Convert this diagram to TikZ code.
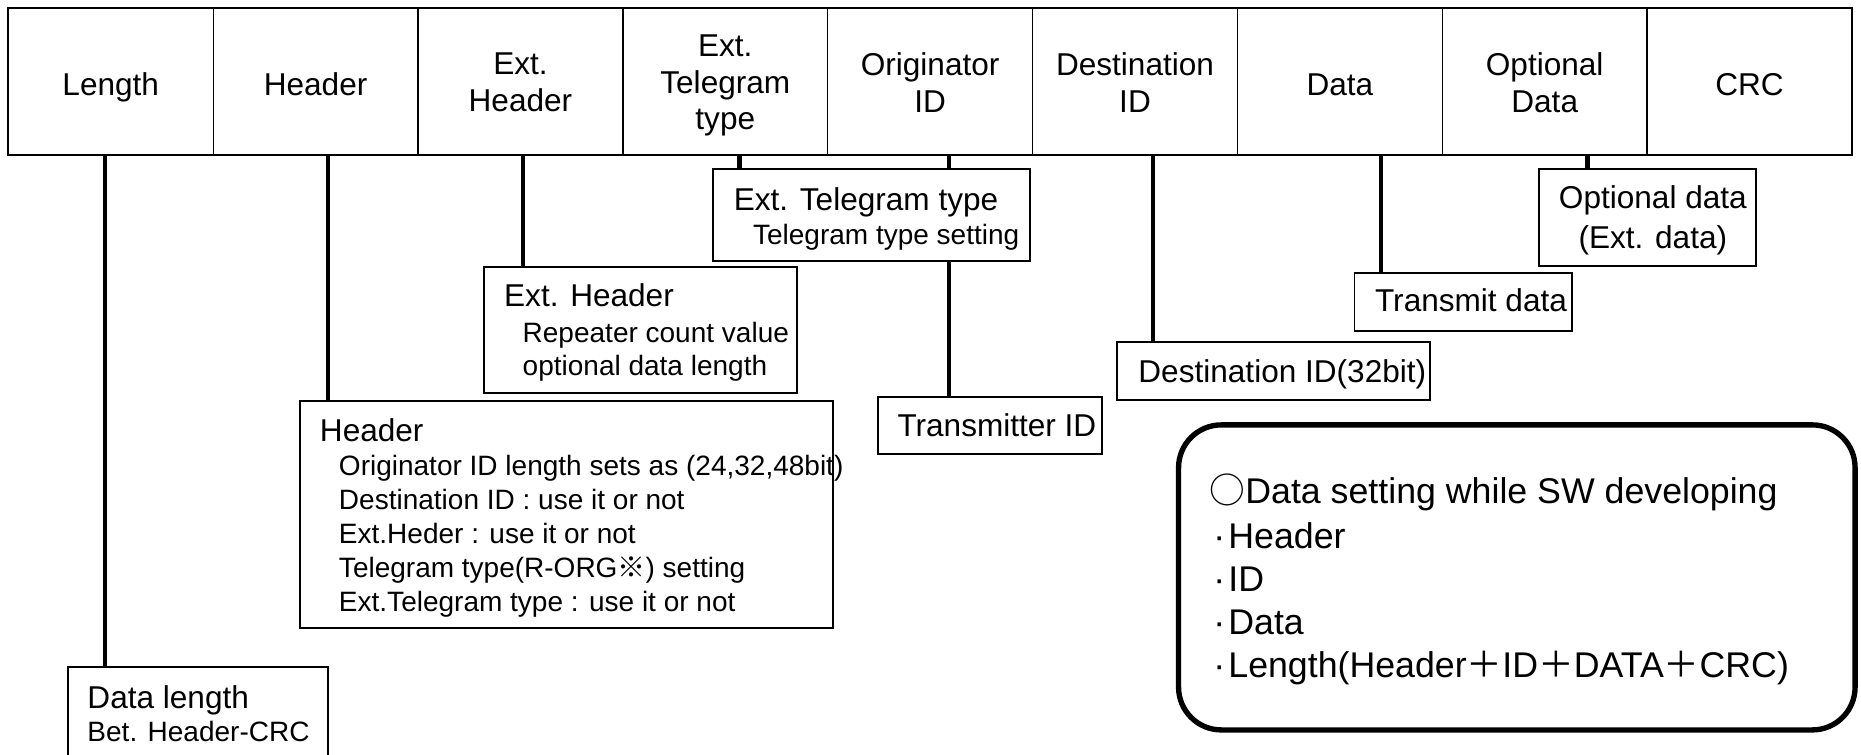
\documentclass[tikz,border=0pt]{standalone}
\usepackage{fontspec}
\setmainfont{Liberation Sans}
\newfontfamily\cjkfont{Noto Sans CJK JP}
\newcommand\fbig{\fontsize{26.6pt}{31pt}\selectfont}
\newcommand\fsub{\fontsize{23.6pt}{28.4pt}\selectfont}
\newcommand\fnote{\fontsize{30.1pt}{36pt}\selectfont}
\newcommand\bul{\makebox[15.8pt][l]{\hspace*{3.2pt}\textperiodcentered}}
\begin{document}
\begin{tikzpicture}[x=1pt,y=-1pt,
  fieldcell/.style={draw, line width=1.1pt, minimum width=172.6pt, minimum height=123.5pt, inner sep=0pt, outer sep=0pt},
  celltext/.style={font=\fbig, align=center, inner sep=0pt,
    execute at begin node=\strut, execute at end node=\strut},
  annobox/.style={draw, line width=1.5pt, fill=white, anchor=north west, inner sep=0pt, outer sep=0pt},
  headtxt/.style={anchor=base west, inner sep=0pt, font=\fbig},
  subtxt/.style={anchor=base west, inner sep=0pt, font=\fsub},
  notetxt/.style={anchor=base west, inner sep=0pt, font=\fnote},
  conn/.style={line width=3.6pt}]
\useasboundingbox (0,0) rectangle (1568,636);

% telegram field bar
\node[fieldcell] (fLen) at (93.3,68.75) {};
\node[fieldcell] (fHdr) at (265.9,68.75) {};
\node[fieldcell] (fEH)  at (438.5,68.75) {};
\node[fieldcell] (fET)  at (611.1,68.75) {};
\node[fieldcell] (fOr)  at (783.7,68.75) {};
\node[fieldcell] (fDs)  at (956.3,68.75) {};
\node[fieldcell] (fDa)  at (1128.9,68.75) {};
\node[fieldcell] (fOd)  at (1301.5,68.75) {};
\node[fieldcell] (fCRC) at (1474.1,68.75) {};
\draw[line width=1.8pt] (fLen.north west) rectangle (fCRC.south east);

\node[celltext] (tLen) at (93.3,74) {Length};
\node[celltext] (tHdr) at (265.9,74) {Header};
\node[celltext] (tEH)  at (438.5,74) {Ext.\\Header};
\node[celltext] (tET)  at (611.1,74) {Ext.\\Telegram\\type};
\node[celltext] (tOr)  at (783.7,74) {Originator\\ID};
\node[celltext] (tDs)  at (956.3,74) {Destination\\ID};
\node[celltext] (tDa)  at (1128.9,74) {Data};
\node[celltext] (tOd)  at (1301.5,74) {Optional\\Data};
\node[celltext] (tCRC) at (1474.1,74) {CRC};

% explanation boxes
\node[annobox, minimum width=267pt,   minimum height=77.3pt]  (etBox) at (601,142.7) {};
\node[annobox, minimum width=263.8pt, minimum height=106.1pt] (ehBox) at (407.5,224.7) {};
\node[annobox, minimum width=448.8pt, minimum height=191.3pt] (hBox)  at (253,338.1) {};
\node[annobox, minimum width=219.5pt, minimum height=100pt]   (dlBox) at (57.1,562.3) {};
\node[annobox, minimum width=188.5pt, minimum height=48pt]    (txBox) at (739.8,334.2) {};
\node[annobox, minimum width=263.6pt, minimum height=49.1pt]  (dsBox) at (941.4,287.9) {};
\node[annobox, minimum width=183.3pt, minimum height=48.9pt]  (tdBox) at (1141.2,229.7) {};
\node[annobox, minimum width=183pt,   minimum height=81.4pt]  (odBox) at (1296.4,142.4) {};

% connector roots on the bar
\coordinate (pLen) at (88.5,130.5);
\coordinate (pHdr) at (276.2,130.5);
\coordinate (pEH)  at (440.9,130.5);
\coordinate (pET)  at (623,130.5);
\coordinate (pOr)  at (799.6,130.5);
\coordinate (pDs)  at (971.7,130.5);
\coordinate (pDa)  at (1163.4,130.5);
\coordinate (pOd)  at (1337.5,130.5);

\draw[conn] (pLen) -- (pLen |- dlBox.north);
\draw[conn] (pHdr) -- (pHdr |- hBox.north);
\draw[conn] (pEH)  -- (pEH |- ehBox.north);
\draw[conn] (pET)  -- (pET |- etBox.north);
\draw[conn] (pOr)  -- (pOr |- etBox.north);
\draw[conn] (pOr |- etBox.south) -- (pOr |- txBox.north);
\draw[conn] (pDs)  -- (pDs |- dsBox.north);
\draw[conn] (pDa)  -- (pDa |- tdBox.north);
\draw[conn] (pOd)  -- (pOd |- odBox.north);

% box texts
\node[headtxt] (etT1) at (618.1,177) {Ext. Telegram type};
\node[subtxt]  (etT2) at (634.3,206.4) {Telegram type setting};

\node[headtxt] (ehT1) at (424.6,258.4) {Ext. Header};
\node[subtxt]  (ehT2) at (440.2,288.4) {Repeater count value};
\node[subtxt]  (ehT3) at (440.2,316) {optional data length};

\node[headtxt] (hT1) at (269.4,371.6) {Header};
\node[subtxt]  (hT2) at (285.4,401) {Originator ID length sets as (24,32,48bit)};
\node[subtxt]  (hT3) at (285.4,429.7) {Destination ID : use it or not};
\node[subtxt]  (hT4) at (285.4,457.8) {Ext.Heder : use it or not};
\node[subtxt]  (hT5) at (285.4,486.7) {Telegram type(R-ORG{\cjkfont ※}) setting};
\node[subtxt]  (hT6) at (285.4,514.8) {Ext.Telegram type : use it or not};

\node[headtxt] (dlT1) at (73.5,596.8) {Data length};
\node[subtxt]  (dlT2) at (73.5,624.9) {Bet. Header-CRC};

\node[headtxt] (txT) at (756,367.4) {Transmitter ID};
\node[headtxt] (dsT) at (959,322.1) {Destination ID(32bit)};
\node[headtxt] (tdT) at (1158.4,262.6) {Transmit data};
\node[headtxt, anchor=base] (odT1) at (1392.6,176) {Optional data};
\node[headtxt, anchor=base] (odT2) at (1392.6,209.2) {(Ext. data)};

% development note
\node[draw, line width=4.5pt, rounded corners=36pt, minimum width=570pt, minimum height=257pt,
      anchor=north west, inner sep=0pt, outer sep=0pt] (note) at (993,358) {};
\node[notetxt] (n1) at (1019,424.6) {{\cjkfont ○}Data setting while SW developing};
\node[notetxt] (n2) at (1019,462.5) {\bul Header};
\node[notetxt] (n3) at (1019,498.5) {\bul ID};
\node[notetxt] (n4) at (1019,534.4) {\bul Data};
\node[notetxt] (n5) at (1019,570.6) {\bul Length(Header{\cjkfont ＋}ID{\cjkfont ＋}DATA{\cjkfont ＋}CRC)};
\end{tikzpicture}
\end{document}
